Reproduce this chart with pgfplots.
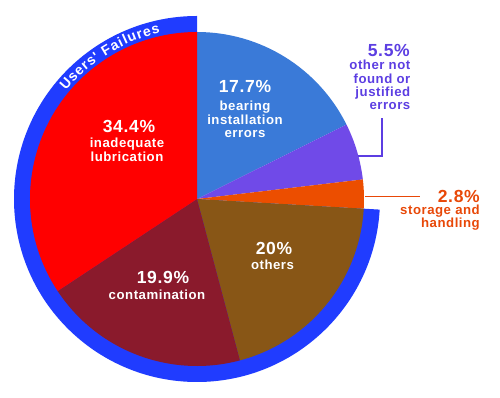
\documentclass[border=0pt]{standalone}
\usepackage{pgfplots}
\pgfplotsset{compat=1.18}
\usepackage{pgfplotstable}
\usepackage{fontspec}
\setmainfont{Liberation Sans}
\newfontfamily\lbl[LetterSpace=4]{Liberation Sans}
\newfontfamily\ringf{Liberation Sans}
\usetikzlibrary{decorations.text}

\definecolor{pie0}{RGB}{58,122,216}
\definecolor{pie1}{RGB}{112,74,232}
\definecolor{pie2}{RGB}{236,78,0}
\definecolor{pie3}{RGB}{136,86,22}
\definecolor{pie4}{RGB}{138,26,44}
\definecolor{pie5}{RGB}{255,0,0}
\definecolor{ring}{RGB}{32,60,255}
\definecolor{ptext}{RGB}{92,62,226}
\definecolor{otext}{RGB}{232,72,8}

\pgfplotstableread{
share
17.7
5.5
2.8
20
19.9
34.4
}\piedata

\tikzset{
  big/.style={font=\lbl\bfseries\fontsize{17.5}{18}\selectfont, inner sep=0pt},
  sm/.style={font=\lbl\bfseries\fontsize{13.2}{14}\selectfont, inner sep=0pt},
}

\begin{document}
\begin{tikzpicture}
\useasboundingbox (0,0) rectangle (500pt,398pt);
\xdef\pietotal{0}%
\foreach \i in {0,...,5}{%
  \pgfplotstablegetelem{\i}{share}\of\piedata
  \pgfmathsetmacro\t{\pietotal+\pgfplotsretval}%
  \xdef\pietotal{\t}%
}%
\xdef\acc{90}%
\foreach \i in {0,...,5}{%
  \pgfplotstablegetelem{\i}{share}\of\piedata
  \pgfmathsetmacro\e{\acc-\pgfplotsretval/\pietotal*360}%
  \expandafter\xdef\csname aS\i\endcsname{\acc}%
  \expandafter\xdef\csname aE\i\endcsname{\e}%
  \xdef\acc{\e}%
}%
\pgfmathsetmacro\ringend{\csname aS3\endcsname+360}%
\begin{axis}[
  at={(0,0)}, anchor=south west,
  scale only axis, width=500pt, height=398pt,
  xmin=0, xmax=500, ymin=0, ymax=398,
  hide axis, clip=false,
]
% outer ring (Users' Failures)
\edef\temp{\noexpand\fill[ring] (axis cs:197,199) -- (axis cs:197,382) arc[start angle=90, end angle=\ringend, radius=183pt] -- cycle;}\temp
% slices
\pgfplotsinvokeforeach{0,...,5}{%
  \edef\temp{\noexpand\fill[pie#1] (axis cs:197,199) -- (axis cs:{197+167*cos(\csname aS#1\endcsname)},{199+167*sin(\csname aS#1\endcsname)}) arc[start angle=\csname aS#1\endcsname, end angle=\csname aE#1\endcsname, radius=167pt] -- cycle;}\temp
}
% ring text
\path[decorate, decoration={text along path, text={|\ringf\bfseries\fontsize{14}{14}\selectfont|Users' Failures}, text color=white, text align={fit to path}}]
  (axis cs:{197+170*cos(140.5)},{199+170*sin(140.5)}) arc[start angle=140.5, end angle=102.5, radius=170pt];
% inner labels
\node[big, anchor=base, text=white] at (axis cs:245,305) {17.7\%};
\node[sm, anchor=base, text=white] at (axis cs:245,287) {bearing};
\node[sm, anchor=base, text=white] at (axis cs:245,273.7) {installation};
\node[sm, anchor=base, text=white] at (axis cs:245,260.3) {errors};

\node[big, anchor=base, text=white] at (axis cs:129,265.5) {34.4\%};
\node[sm, anchor=base, text=white] at (axis cs:127,250.7) {inadequate};
\node[sm, anchor=base, text=white] at (axis cs:127,236.5) {lubrication};

\node[big, anchor=base, text=white] at (axis cs:163,114.5) {19.9\%};
\node[sm, anchor=base, text=white] at (axis cs:157,98.7) {contamination};

\node[big, anchor=base, text=white] at (axis cs:274,143.5) {20\%};
\node[sm, anchor=base, text=white] at (axis cs:272.5,128) {others};

% outer labels
\node[big, anchor=base east, text=ptext] at (axis cs:410,341) {5.5\%};
\node[sm, anchor=base east, text=ptext] at (axis cs:410.5,328) {other not};
\node[sm, anchor=base east, text=ptext] at (axis cs:410.5,314.7) {found or};
\node[sm, anchor=base east, text=ptext] at (axis cs:410.5,301.3) {justified};
\node[sm, anchor=base east, text=ptext] at (axis cs:410.5,288) {errors};
\draw[ptext, line width=2pt] (axis cs:358,242.3) -- (axis cs:382,242.3) -- (axis cs:382,280.3);

\node[big, anchor=base east, text=otext] at (axis cs:480,195.5) {2.8\%};
\node[sm, anchor=base east, text=otext] at (axis cs:480,183.7) {storage and};
\node[sm, anchor=base east, text=otext] at (axis cs:480,170.5) {handling};
\draw[otext, line width=1.4pt] (axis cs:365,201.3) -- (axis cs:420,201.3);
\end{axis}
\end{tikzpicture}
\end{document}
